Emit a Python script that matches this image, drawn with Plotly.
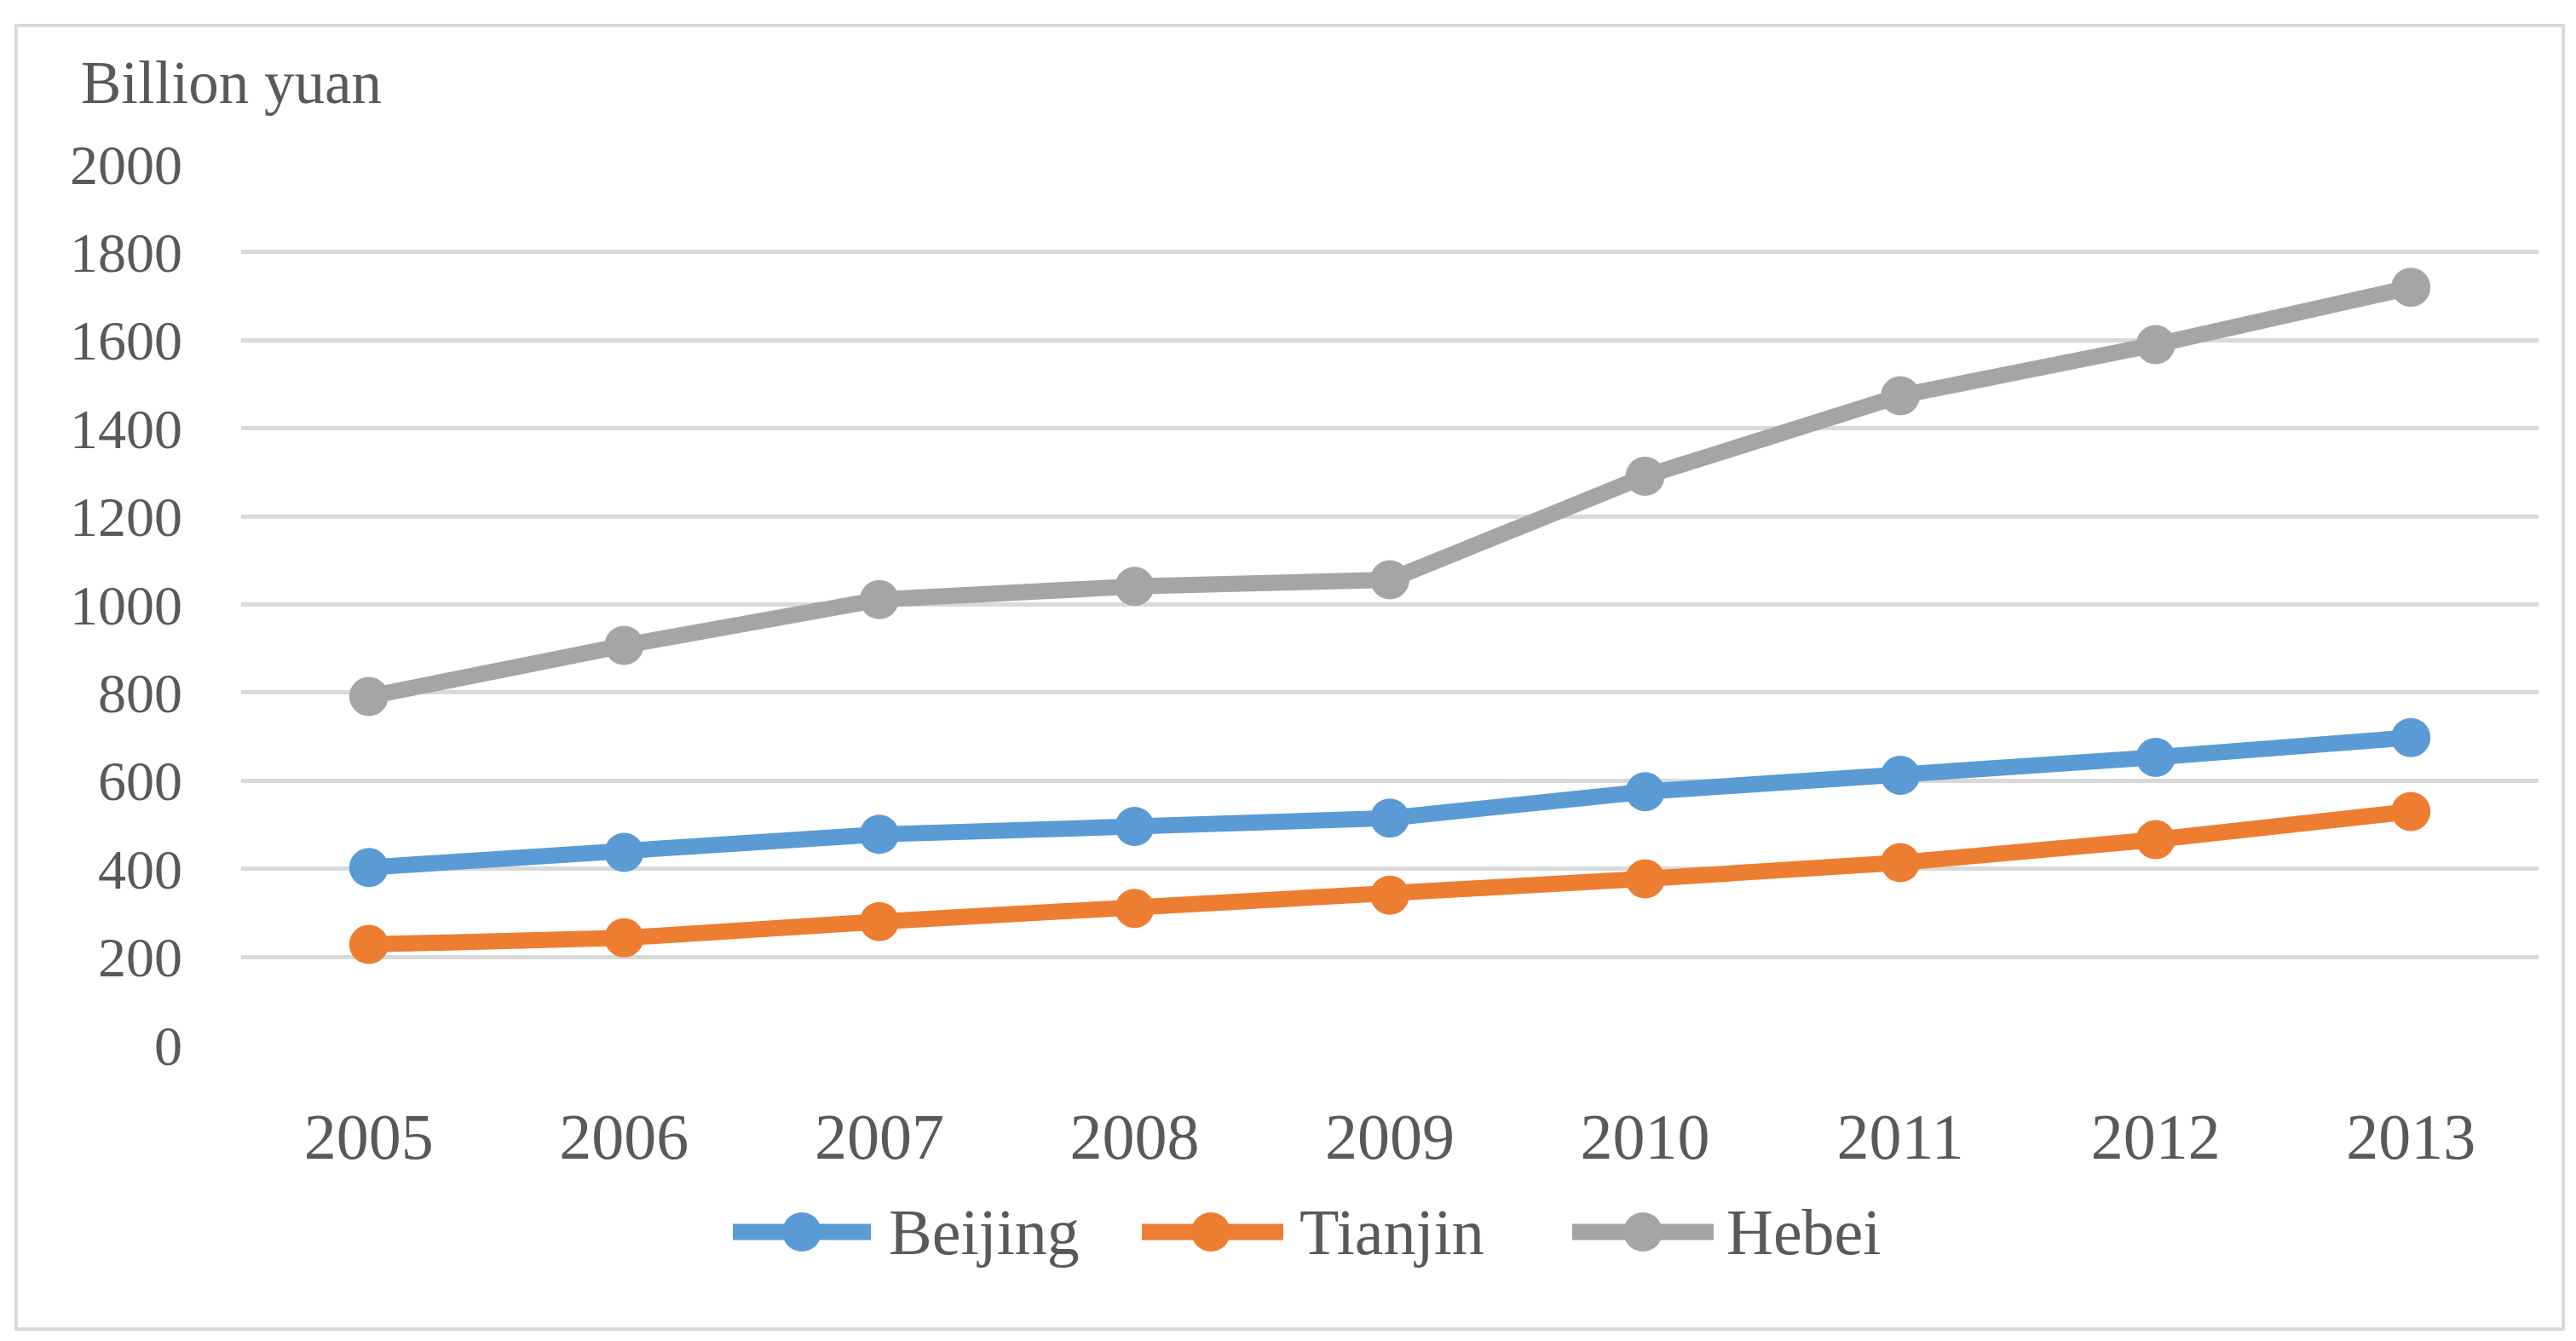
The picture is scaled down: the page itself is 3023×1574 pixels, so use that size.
import plotly.graph_objects as go

years = ["2005", "2006", "2007", "2008", "2009", "2010", "2011", "2012", "2013"]
beijing = [403, 437, 478, 496, 515, 575, 612, 653, 698]
tianjin = [228, 243, 280, 310, 340, 377, 414, 466, 530]
hebei = [791, 907, 1011, 1041, 1056, 1291, 1474, 1590, 1720]
y_ticks = [0, 200, 400, 600, 800, 1000, 1200, 1400, 1600, 1800, 2000]
series_names = ["Beijing", "Tianjin", "Hebei"]
colors = ["#5B9BD5", "#ED7D31", "#A5A5A5"]

OFF = 8  # page body margin
W, H = 3023 - OFF, 1574 - OFF
L, T = 283 - OFF, 192 - OFF
PW, PH = 2696, 1035
R, B = W - L - PW, H - T - PH
FONT = "Liberation Serif, Times New Roman, serif"
TXT = "#595959"

# reference pixel -> paper coords
def px_x(x):
    return (x - OFF - L) / PW

def px_y(y):
    return (T + PH - (y - OFF)) / PH

fig = go.Figure()
for name, vals, col in zip(series_names, [beijing, tianjin, hebei], colors):
    fig.add_trace(go.Scatter(
        x=years, y=vals, name=name, mode="lines+markers",
        line=dict(color=col, width=19),
        marker=dict(color=col, size=46),
        showlegend=False,
    ))

shapes = []
annotations = []
shapes.append(dict(type="rect", xref="paper", yref="paper",
                   x0=px_x(19), x1=px_x(3008), y0=px_y(1560), y1=px_y(30),
                   line=dict(color="#D9D9D9", width=4), layer="below"))

leg = [(860, 1022, 941, 1041), (1340, 1506, 1421, 1523), (1845, 2011, 1928, 2024)]
ly = 1446
r = 23
for (x0, x1, xm, xt), name, col in zip(leg, series_names, colors):
    shapes.append(dict(type="line", xref="paper", yref="paper",
                       x0=px_x(x0), x1=px_x(x1), y0=px_y(ly), y1=px_y(ly),
                       line=dict(color=col, width=19)))
    shapes.append(dict(type="circle", xref="paper", yref="paper",
                       x0=px_x(xm - r), x1=px_x(xm + r), y0=px_y(ly + r), y1=px_y(ly - r),
                       fillcolor=col, line=dict(color=col, width=0)))
    annotations.append(dict(text=name, xref="paper", yref="paper",
                            x=px_x(xt), y=px_y(ly), xanchor="left", yanchor="middle",
                            showarrow=False, font=dict(family=FONT, size=76, color=TXT)))

annotations.append(dict(text="Billion yuan", xref="paper", yref="paper",
                        x=px_x(93), y=px_y(97), xanchor="left", yanchor="middle",
                        showarrow=False, font=dict(family=FONT, size=71, color=TXT)))

fig.update_layout(
    width=W, height=H,
    margin=dict(l=L, r=R, t=T, b=B),
    paper_bgcolor="white", plot_bgcolor="white",
    shapes=shapes, annotations=annotations,
    font=dict(family=FONT, color=TXT),
)
fig.update_xaxes(type="category", range=[-0.5, 8.5], showgrid=False, showline=False,
                 zeroline=False, ticks="", tickfont=dict(family=FONT, size=76, color=TXT),
                 ticklabelstandoff=56)
fig.update_yaxes(range=[-1, 2001], tickvals=y_ticks, showgrid=True, gridcolor="#D9D9D9",
                 gridwidth=5, zeroline=False, showline=False, ticks="",
                 tickfont=dict(family=FONT, size=66, color=TXT), ticklabelstandoff=68)

fig.write_html("out.html")
